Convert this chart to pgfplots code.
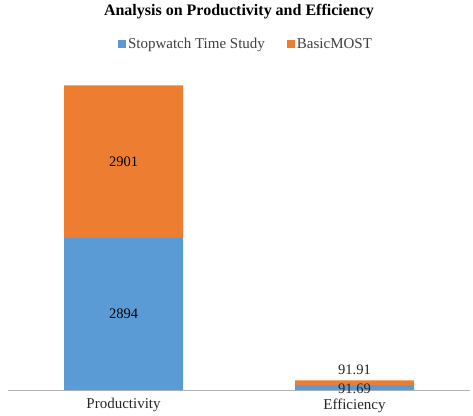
\documentclass[border=0pt]{standalone}
\usepackage{pgfplots}
\pgfplotsset{compat=1.18}
\usepackage{fontspec}
\setmainfont{Liberation Serif}
\definecolor{cblue}{HTML}{5B9BD5}
\definecolor{corange}{HTML}{ED7D31}
\definecolor{ltext}{HTML}{404040}
\begin{document}
\begin{tikzpicture}
\begin{axis}[
  scale only axis,
  width=462pt, height=326pt,
  xmin=-0.5, xmax=1.5,
  ymin=0, ymax=6200,
  ybar stacked,
  bar width=119pt,
  axis x line*=bottom,
  axis y line=none,
  x axis line style={draw=gray!60, -},
  xtick={0,1},
  xticklabels={Productivity, Efficiency},
  xtick style={draw=none},
  xticklabel style={font=\fontsize{15}{17}\selectfont, text=black!85, yshift=-5pt},
  title={\textbf{Analysis on Productivity and Efficiency}},
  title style={font=\fontsize{16}{18}\selectfont, at={(0.5,1)}, anchor=south, yshift=36pt},
  legend style={draw=none, at={(0.5,1)}, anchor=south, yshift=10pt, xshift=7pt,
    legend columns=2, font=\fontsize{15}{17}\selectfont, text=ltext,
    /tikz/every even column/.append style={column sep=20pt}},
  legend image code/.code={\fill[#1,draw=none] (0pt,-4pt) rectangle (8pt,4pt);},
]
\addplot+[fill=cblue, draw=none] coordinates {(0,2894) (1,91.69)};
\addplot+[fill=corange, draw=none] coordinates {(0,2901) (1,91.91)};
\legend{Stopwatch Time Study, BasicMOST}
\coordinate (p1) at (axis cs:0,1447);
\coordinate (p2) at (axis cs:0,4344.5);
\coordinate (e1) at (axis cs:1,30);
\coordinate (e2) at (axis cs:1,390);
\end{axis}
\node[font=\fontsize{14.5}{16}\selectfont] at (p1) {2894};
\node[font=\fontsize{14.5}{16}\selectfont] at (p2) {2901};
\node[font=\fontsize{14.5}{16}\selectfont, text=black!85, inner sep=0pt] at (e1) {91.69};
\node[font=\fontsize{14.5}{16}\selectfont, text=black!85] at (e2) {91.91};
\path (-8pt,-24pt) rectangle (465pt,390pt);
\end{tikzpicture}
\end{document}
